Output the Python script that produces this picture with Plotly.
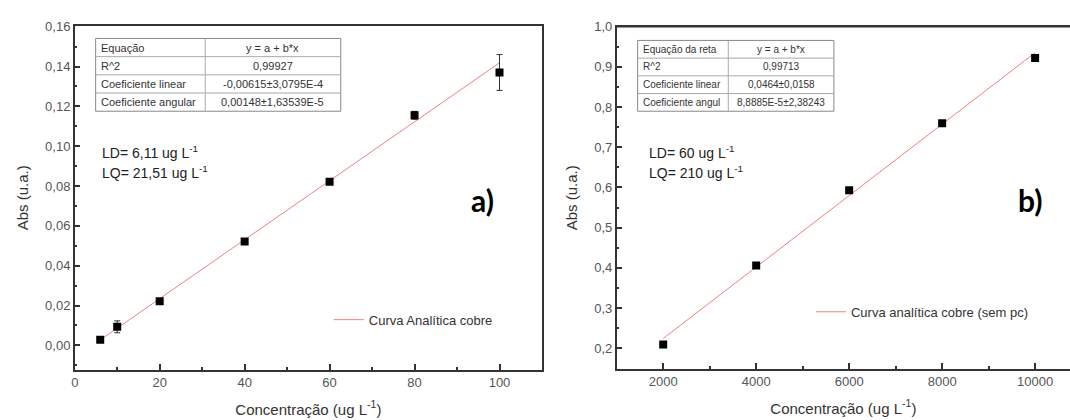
import plotly.graph_objects as go

# ---------------- data ----------------
conc_a = [6, 10, 20, 40, 60, 80, 100]
abs_a = [0.0028, 0.0093, 0.0222, 0.0521, 0.0821, 0.1155, 0.1370]
err_a = [0.0004, 0.0030, 0.0006, 0.0006, 0.0008, 0.0020, 0.0090]
fit_a_intercept = -0.00615
fit_a_slope = 0.00148
fit_a_x = [6, 100]

conc_b = [2000, 4000, 6000, 8000, 10000]
abs_b = [0.209, 0.406, 0.593, 0.760, 0.922]
fit_b_intercept = 0.0464
fit_b_slope = 8.8885e-5
fit_b_x = [2000, 10000]

table_a_left = ["Equação", "R^2", "Coeficiente linear", "Coeficiente angular"]
table_a_right = ["y = a + b*x", "0,99927", "-0,00615±3,0795E-4", "0,00148±1,63539E-5"]
table_b_left = ["Equação da reta", "R^2", "Coeficiente linear", "Coeficiente angul"]
table_b_right = ["y = a + b*x", "0,99713", "0,0464±0,0158", "8,8885E-5±2,38243"]

W, H = 1070, 420
FONT = "Arial"
RED = "rgb(240,128,128)"
GRAY = "#444"

fig = go.Figure()

# ---- panel a ----
fig.add_trace(go.Scatter(
    x=fit_a_x, y=[fit_a_intercept + fit_a_slope * v for v in fit_a_x],
    mode="lines", line=dict(color=RED, width=1),
    name="Curva Analítica cobre", xaxis="x", yaxis="y", legend="legend"))
fig.add_trace(go.Scatter(
    x=conc_a, y=abs_a, mode="markers",
    marker=dict(symbol="square", size=8, color="black"),
    error_y=dict(type="data", array=err_a, color="#333", thickness=1, width=3),
    showlegend=False, xaxis="x", yaxis="y"))

# ---- panel b ----
fig.add_trace(go.Scatter(
    x=fit_b_x, y=[fit_b_intercept + fit_b_slope * v for v in fit_b_x],
    mode="lines", line=dict(color=RED, width=1),
    name="Curva analítica cobre (sem pc)", xaxis="x2", yaxis="y2", legend="legend2"))
fig.add_trace(go.Scatter(
    x=conc_b, y=abs_b, mode="markers",
    marker=dict(symbol="square", size=8, color="black"),
    showlegend=False, xaxis="x2", yaxis="y2"))

def px_x(p):
    return p / W

def px_y(p):
    return 1 - p / H

axis_common = dict(
    showgrid=False, zeroline=False, showline=True, linecolor="#333", linewidth=1.5,
    ticks="inside", ticklen=6, tickwidth=1.5, tickcolor="#333",
    tickfont=dict(family=FONT, size=13, color="#555"),
)
title_font = dict(family=FONT, size=15, color="#333")

fig.update_layout(
    width=W, height=H,
    margin=dict(l=0, r=0, t=0, b=0),
    paper_bgcolor="white", plot_bgcolor="white",
    separators=",.",
    font=dict(family=FONT, color=GRAY),
    xaxis=dict(domain=[px_x(71), px_x(540)], range=[0, 110], dtick=20, tick0=0,
               mirror=True, anchor="y",
               minor=dict(ticks="inside", ticklen=3, dtick=10, tickcolor="#333"),
               title=dict(text="Concentração (ug L<sup>-1</sup>)", standoff=15, font=title_font),
               **axis_common),
    yaxis=dict(domain=[px_y(369), px_y(19)], range=[-0.0123, 0.1605], dtick=0.02, tick0=0,
               tickformat=".2f", mirror=True, anchor="x",
               minor=dict(ticks="inside", ticklen=3, dtick=0.01, tickcolor="#333"),
               title=dict(text="Abs (u.a.)", standoff=13, font=title_font),
               **axis_common),
    xaxis2=dict(domain=[px_x(615), 1.0], range=[1000, 10750], dtick=2000, tick0=0,
                tickformat="d", mirror=True, anchor="y2",
                minor=dict(ticks="inside", ticklen=3, dtick=1000, tickcolor="#333"),
                title=dict(text="Concentração (ug L<sup>-1</sup>)", standoff=15, font=title_font),
                **axis_common),
    yaxis2=dict(domain=[px_y(368), px_y(20)], range=[0.1486, 1.0], dtick=0.1, tick0=0,
                tickformat=".1f", mirror=False, anchor="x2",
                minor=dict(ticks="inside", ticklen=3, dtick=0.05, tickcolor="#333"),
                title=dict(text="Abs (u.a.)", standoff=13, font=title_font),
                **axis_common),
    legend=dict(x=px_x(326), y=px_y(318), xanchor="left", yanchor="middle",
                bgcolor="rgba(0,0,0,0)", font=dict(family=FONT, size=13, color="#333"),
                itemwidth=30),
    legend2=dict(x=px_x(810), y=px_y(310), xanchor="left", yanchor="middle",
                 bgcolor="rgba(0,0,0,0)", font=dict(family=FONT, size=13, color="#333"),
                 itemwidth=30),
)

# top border for panel b (no right border visible)
fig.add_shape(type="line", xref="paper", yref="paper",
              x0=px_x(615), x1=1.0, y0=px_y(20), y1=px_y(20),
              line=dict(color="#333", width=1.5))

shapes = []
annotations = []

def add_table(x0, xd, x1, top, bottom, left, right, fsize):
    n = len(left)
    rh = (bottom - top) / n
    shapes.append(dict(type="rect", xref="paper", yref="paper",
                       x0=px_x(x0), x1=px_x(x1), y0=px_y(bottom), y1=px_y(top),
                       line=dict(color="#888", width=1), fillcolor="white"))
    shapes.append(dict(type="line", xref="paper", yref="paper",
                       x0=px_x(xd), x1=px_x(xd), y0=px_y(bottom), y1=px_y(top),
                       line=dict(color="#aaa", width=1)))
    for i in range(1, n):
        yy = top + i * rh
        shapes.append(dict(type="line", xref="paper", yref="paper",
                           x0=px_x(x0), x1=px_x(x1), y0=px_y(yy), y1=px_y(yy),
                           line=dict(color="#aaa", width=1)))
    for i in range(n):
        yc = top + (i + 0.5) * rh
        annotations.append(dict(xref="paper", yref="paper", x=px_x(x0 + 3), y=px_y(yc),
                                xanchor="left", yanchor="middle", showarrow=False,
                                text=left[i], font=dict(family=FONT, size=fsize, color="#333")))
        annotations.append(dict(xref="paper", yref="paper", x=px_x((xd + x1) / 2), y=px_y(yc),
                                xanchor="center", yanchor="middle", showarrow=False,
                                text=right[i], font=dict(family=FONT, size=fsize, color="#333")))

add_table(92, 202, 338, 32, 106, table_a_left, table_a_right, 11)
add_table(636, 727, 833, 34, 106, table_b_left, table_b_right, 10)

for s in shapes:
    fig.add_shape(**s)

txt_font = dict(family=FONT, size=14, color="#222")
annotations += [
    dict(xref="paper", yref="paper", x=px_x(96), y=px_y(147), xanchor="left", yanchor="middle",
         showarrow=False, text="LD= 6,11 ug L<sup>-1</sup>", font=txt_font),
    dict(xref="paper", yref="paper", x=px_x(96), y=px_y(168), xanchor="left", yanchor="middle",
         showarrow=False, text="LQ= 21,51 ug L<sup>-1</sup>", font=txt_font),
    dict(xref="paper", yref="paper", x=px_x(645), y=px_y(147), xanchor="left", yanchor="middle",
         showarrow=False, text="LD= 60 ug L<sup>-1</sup>", font=txt_font),
    dict(xref="paper", yref="paper", x=px_x(645), y=px_y(168), xanchor="left", yanchor="middle",
         showarrow=False, text="LQ= 210 ug L<sup>-1</sup>", font=txt_font),
    dict(xref="paper", yref="paper", x=px_x(480), y=px_y(196), xanchor="center", yanchor="middle",
         showarrow=False, text="<b>a)</b>", font=dict(family="Lato", size=30, color="black")),
    dict(xref="paper", yref="paper", x=px_x(1030), y=px_y(196), xanchor="center", yanchor="middle",
         showarrow=False, text="<b>b)</b>", font=dict(family="Lato", size=30, color="black")),
]
for a in annotations:
    fig.add_annotation(**a)

fig.write_html("out.html")
